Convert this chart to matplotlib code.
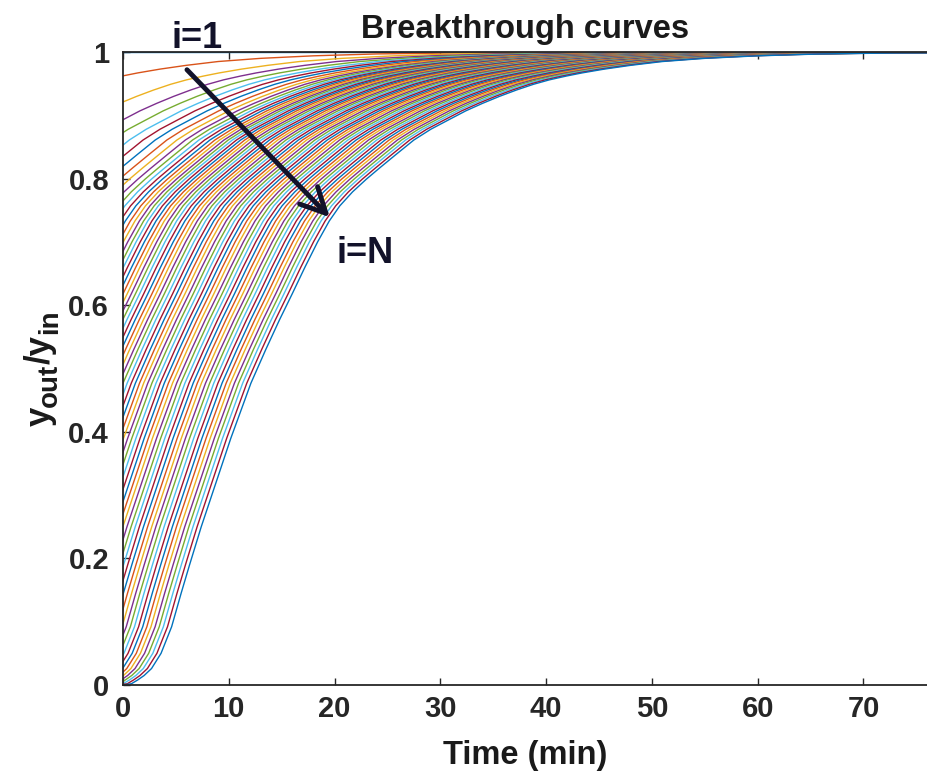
import numpy as np
import matplotlib.pyplot as plt
from matplotlib.transforms import IdentityTransform

# outlet curve (i=N): time (min) vs y_out/y_in
t_env = [0, 0.8, 1.4, 2.0, 2.7, 3.6, 4.6, 5.5, 6.3, 7.4, 8.5, 10.2, 12.1,
         13.5, 14.8, 16.0, 17.2, 18.4, 19.5, 20.5, 21.7, 23.0, 24.2, 25.8,
         27.5, 29.1, 30.8, 32.4, 34.0, 35.6, 37.2, 38.8, 40.3, 41.9, 43.4,
         45.5, 48, 51, 55, 60, 66, 73, 82, 95, 120, 400]
y_env = [0, 0.002, 0.008, 0.015, 0.026, 0.05, 0.092, 0.145, 0.19, 0.25,
         0.305, 0.39, 0.477, 0.53, 0.577, 0.618, 0.66, 0.70, 0.733, 0.757,
         0.779, 0.799, 0.816, 0.838, 0.861, 0.878, 0.893, 0.907, 0.919,
         0.930, 0.940, 0.949, 0.956, 0.962, 0.967, 0.973, 0.979, 0.985,
         0.990, 0.994, 0.997, 0.9985, 0.9993, 0.9998, 1.0, 1.0]

# time lead (min) of every curve over the i=N curve, inlet first
t_shift = [300, 42.0, 34.3, 30.8, 28.6, 26.9, 25.6, 24.45, 23.35, 22.4,
           21.6, 20.92, 20.32, 19.78, 19.28, 18.81, 18.37, 17.95,
           17.55, 17.16, 16.77, 16.38, 15.99, 15.60, 15.21, 14.82, 14.43,
           14.04, 13.65, 13.26, 12.87, 12.48, 12.09, 11.70, 11.31, 10.92,
           10.53, 10.14, 9.75, 9.36, 8.97, 8.58, 8.19, 7.80, 7.41, 7.02,
           6.63, 6.24, 5.85, 5.46, 5.07, 4.68, 4.29, 3.90, 3.51, 3.12,
           2.73, 2.34, 1.95, 1.56, 1.17, 0.78, 0.39, 0.0]

x_ticks = [0, 10, 20, 30, 40, 50, 60, 70]
y_ticks = [0, 0.2, 0.4, 0.6, 0.8, 1.0]
y_tick_labels = ["0", "0.2", "0.4", "0.6", "0.8", "1"]

# matlab default line colours
colors = ["#0072bd", "#d95319", "#edb120", "#7e2f8e",
          "#77ac30", "#4dbeee", "#a2142f"]

plt.rcParams["font.family"] = ["Liberation Sans", "DejaVu Sans"]
plt.rcParams["font.weight"] = "bold"

fig = plt.figure(figsize=(9.28, 7.8), dpi=100)
ax = fig.add_axes([0.1325, 0.1218, 0.8675, 0.8115])

t_env = np.array(t_env)
for k, s in enumerate(t_shift):
    ax.plot(t_env - s, y_env, color=colors[k % len(colors)], lw=1.0)

ax.set_xlim(0, 76.1)
ax.set_ylim(0, 1)
ax.set_xticks(x_ticks)
ax.set_yticks(y_ticks)
ax.set_yticklabels(y_tick_labels)

axis_col = "#262626"
for side in ["top", "left", "bottom"]:
    ax.spines[side].set_color(axis_col)
    ax.spines[side].set_linewidth(1.3)
ax.spines["right"].set_visible(False)
ax.tick_params(axis="both", direction="in", length=5, width=1.0,
               colors=axis_col, labelsize=21, top=True, right=False)
ax.tick_params(axis="x", pad=7)
ax.tick_params(axis="y", pad=10)

txt_col = "#1a1a1a"
ax.set_title("Breakthrough curves", fontsize=23.5, fontweight="bold",
             color=txt_col, pad=10)
ax.set_xlabel("Time (min)", fontsize=23.5, fontweight="bold", color=txt_col)
ax.xaxis.set_label_coords(0.5, -0.087)

# y label built piece by piece so the subscripts stay large (matlab tex look)
renderer = fig.canvas.get_renderer()
label_parts = [("y", 25, 0), ("out", 20, 7), ("/y", 25, 0), ("in", 20, 7)]
base_x = 50
pieces = []
for text, size, drop in label_parts:
    t = fig.text(base_x + drop, 0, text, fontsize=size, fontweight="bold",
                 color=txt_col, rotation=90, rotation_mode="anchor",
                 ha="left", va="baseline", transform=IdentityTransform())
    pieces.append(t)
lengths = [p.get_window_extent(renderer).height for p in pieces]
y_cursor = 368 - sum(lengths) / 2
y_cursor = 780 - 368 - sum(lengths) / 2
for p, h in zip(pieces, lengths):
    p.set_y(y_cursor)
    y_cursor += h

ink = "#12122a"
ax.annotate("", xy=(19.55, 0.739), xytext=(6.05, 0.972),
            arrowprops=dict(arrowstyle="->,head_length=0.9,head_width=0.45",
                            lw=3.5, color=ink, mutation_scale=20,
                            shrinkA=0, shrinkB=0),
            annotation_clip=False)
ax.text(6.99, 1.022, "i=1", fontsize=26, fontweight="bold", color=ink,
        ha="center", va="center", clip_on=False)
ax.text(22.87, 0.682, "i=N", fontsize=26, fontweight="bold", color=ink,
        ha="center", va="center", clip_on=False)

fig.savefig("out.png", dpi=100)
